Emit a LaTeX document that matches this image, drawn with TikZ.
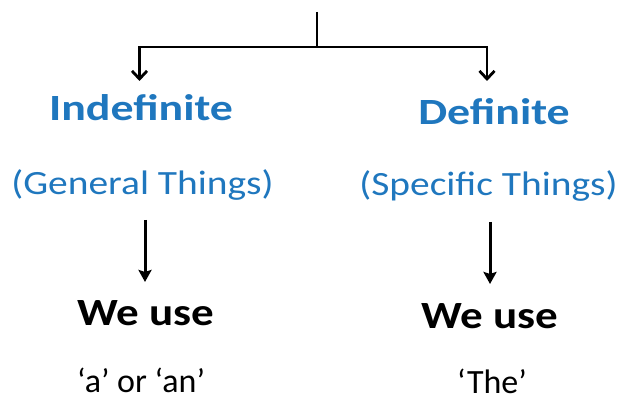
\documentclass[tikz,border=0pt]{standalone}
\usepackage{fontspec}
\setmainfont{Carlito}
\newfontfamily\fhead{Carlito}[FakeStretch=1.24]
\newfontfamily\fsub{Carlito}[FakeStretch=1.16]
\newfontfamily\fuse{Carlito}[FakeStretch=1.17]
\newfontfamily\fart{Carlito}[FakeStretch=1.0]
\usetikzlibrary{arrows.meta}
\definecolor{tblue}{RGB}{31,119,190}
\begin{document}
\begin{tikzpicture}[x=1pt,y=1pt,
  head/.style={font=\fhead\bfseries\fontsize{37}{41}\selectfont, text=tblue, inner sep=0pt, anchor=base},
  sub/.style={font=\fsub\fontsize{34}{38}\selectfont, text=tblue, inner sep=0pt, anchor=base},
  use/.style={font=\fuse\bfseries\fontsize{38.5}{42}\selectfont, text=black, inner sep=0pt, anchor=base},
  art/.style={font=\fart\fontsize{34}{38}\selectfont, text=black, inner sep=0pt, anchor=base},
  topline/.style={line width=2.8pt},
  toparrow/.style={line width=2.8pt, -{Straight Barb[length=8pt,width=15pt,line width=2.8pt]}},
  midarrow/.style={line width=3pt, -{Stealth[length=12pt,width=13pt,inset=2pt]}}]
\useasboundingbox (0,0) rectangle (624,403);
\coordinate (top) at (317,391);
\coordinate (mid) at (317,356);
\node[head] (ind) at (141,282) {Indefinite};
\node[head] (def) at (494,278) {Definite};
\node[sub] (gen) at (142.5,208) {(General Things)};
\node[sub] (spe) at (488.5,207) {(Specific Things)};
\node[use] (wl) at (145.5,77) {We use};
\node[use] (wr) at (490,74) {We use};
\node[art] (al) at (141,10) {‘a’ or ‘an’};
\node[art] (ar) at (492,9) {‘The’};
\coordinate (il) at (139.5,322);
\coordinate (ir) at (487,322);
\draw[topline] (top) -- (mid);
\draw[toparrow] (mid) -| (il);
\draw[toparrow] (mid) -| (ir);
\coordinate (gl) at (145,183);
\coordinate (gle) at (145,121);
\coordinate (sr) at (490,181);
\coordinate (sre) at (490,119);
\draw[midarrow] (gl) -- (gle);
\draw[midarrow] (sr) -- (sre);
\end{tikzpicture}
\end{document}
